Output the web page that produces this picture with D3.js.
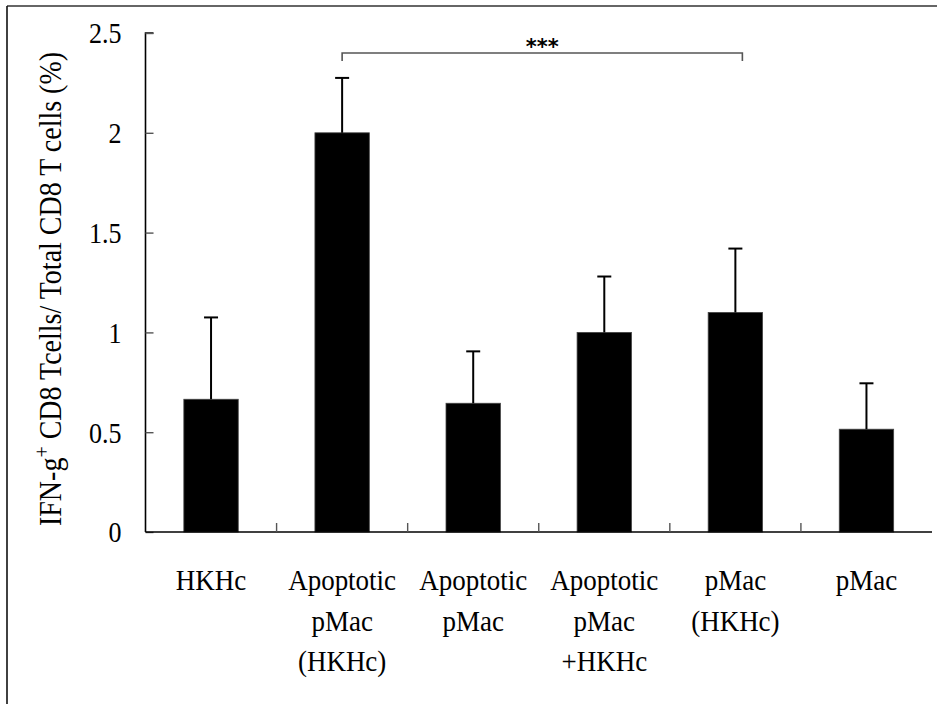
<!DOCTYPE html>
<html><head><meta charset="utf-8">
<script src="https://cdn.jsdelivr.net/npm/d3@7"></script>
<style>body{margin:0;background:#fff}svg{display:block}</style>
</head><body>
<svg id="c" width="937" height="704"></svg>
<script>
const categories = [
  ["HKHc"],
  ["Apoptotic","pMac","(HKHc)"],
  ["Apoptotic","pMac"],
  ["Apoptotic","pMac","+HKHc"],
  ["pMac","(HKHc)"],
  ["pMac"]
];
const means = [0.665, 2.0, 0.645, 1.0, 1.10, 0.515];
const errors = [0.41, 0.275, 0.26, 0.28, 0.32, 0.23];
const yTicks = [0, 0.5, 1, 1.5, 2, 2.5];
const yTickLabels = ["0","0.5","1","1.5","2","2.5"];
const sig = {from: 1, to: 4, label: "***", level: 2.40};

const svg = d3.select("#c");
const font = "'Liberation Serif', 'DejaVu Serif', serif";

// frame
svg.append("line").attr("x1",7).attr("x2",937).attr("y1",6).attr("y2",6).attr("stroke","#333").attr("stroke-width",1.6);
svg.append("line").attr("x1",7).attr("x2",7).attr("y1",6).attr("y2",704).attr("stroke","#111").attr("stroke-width",1.6);

const pL = 145.5, pR = 932, pT = 33, pB = 532;
const x = d3.scaleBand().domain(d3.range(categories.length)).range([pL, pR]).paddingInner(0.585).paddingOuter(0.2925);
const xb = d3.scaleBand().domain(d3.range(categories.length)).range([pL, pR]);
const y = d3.scaleLinear().domain([0, 2.5]).range([pB, pT]);

// bars
svg.selectAll("rect.bar").data(means).join("rect").attr("class","bar")
  .attr("x",(d,i)=>x(i)).attr("width",x.bandwidth())
  .attr("y",d=>y(d)).attr("height",d=>y(0)-y(d))
  .attr("fill","#000").attr("stroke","#444").attr("stroke-width",0.8);

// error bars
const eg = svg.append("g").attr("stroke","#000").attr("stroke-width",2);
means.forEach((m,i)=>{
  const cx = x(i)+x.bandwidth()/2;
  eg.append("line").attr("x1",cx).attr("x2",cx).attr("y1",y(m)).attr("y2",y(m+errors[i]));
  eg.append("line").attr("x1",cx-7).attr("x2",cx+7).attr("y1",y(m+errors[i])).attr("y2",y(m+errors[i]));
});

// y axis
const yAxis = d3.axisRight(y).tickValues(yTicks).tickSize(8).tickFormat("");
const ya = svg.append("g").attr("transform",`translate(${pL},0)`).call(yAxis);
ya.select(".domain").attr("stroke","#000").attr("stroke-width",1.6).attr("d",`M8,${pT}H0V${pB}`);
ya.selectAll(".tick line").attr("stroke","#555").attr("stroke-width",1.4);
svg.selectAll("text.ytl").data(yTicks).join("text").attr("class","ytl")
  .attr("transform",d=>`translate(${pL-24},${y(d)}) scale(1,1.15)`).attr("dy","0.35em")
  .attr("text-anchor","end").attr("font-family",font).attr("font-size",26)
  .text((d,i)=>yTickLabels[i]);

// x axis
svg.append("line").attr("x1",pL).attr("x2",pR).attr("y1",pB).attr("y2",pB).attr("stroke","#000").attr("stroke-width",1.6);
svg.selectAll("line.xt").data(d3.range(1,categories.length)).join("line").attr("class","xt")
  .attr("x1",d=>xb(d)).attr("x2",d=>xb(d)).attr("y1",pB).attr("y2",pB-9)
  .attr("stroke","#555").attr("stroke-width",1.4);

// x labels
categories.forEach((lines,i)=>{
  lines.forEach((l,j)=>{
    svg.append("text").attr("text-anchor","middle").attr("font-family",font).attr("font-size",27)
      .attr("transform",`translate(${xb(i)+xb.bandwidth()/2},${590+j*40.5}) scale(1,1.1)`).text(l);
  });
});

// y label
const yl = svg.append("text").attr("transform",`translate(61,289) rotate(-90) scale(1,1.1)`)
  .attr("text-anchor","middle").attr("font-family",font).attr("font-size",28);
yl.append("tspan").text("IFN-g");
yl.append("tspan").attr("dy",-11).attr("font-size",20).text("+");
yl.append("tspan").attr("dy",11).text(" CD8 Tcells/ Total CD8 T cells (%)");

// significance bracket
const bx1 = x(sig.from)+x.bandwidth()/2, bx2 = x(sig.to)+x.bandwidth()/2+7;
const by = y(sig.level);
svg.append("path").attr("d",`M${bx1},${by+8}V${by}H${bx2}V${by+8}`)
  .attr("fill","none").attr("stroke","#555").attr("stroke-width",1.6);
svg.append("text").attr("x",(bx1+bx2)/2).attr("y",by+1).attr("text-anchor","middle")
  .attr("font-family","'DejaVu Sans', sans-serif").attr("font-size",21).attr("font-weight","bold").text(sig.label);
</script>
</body></html>
